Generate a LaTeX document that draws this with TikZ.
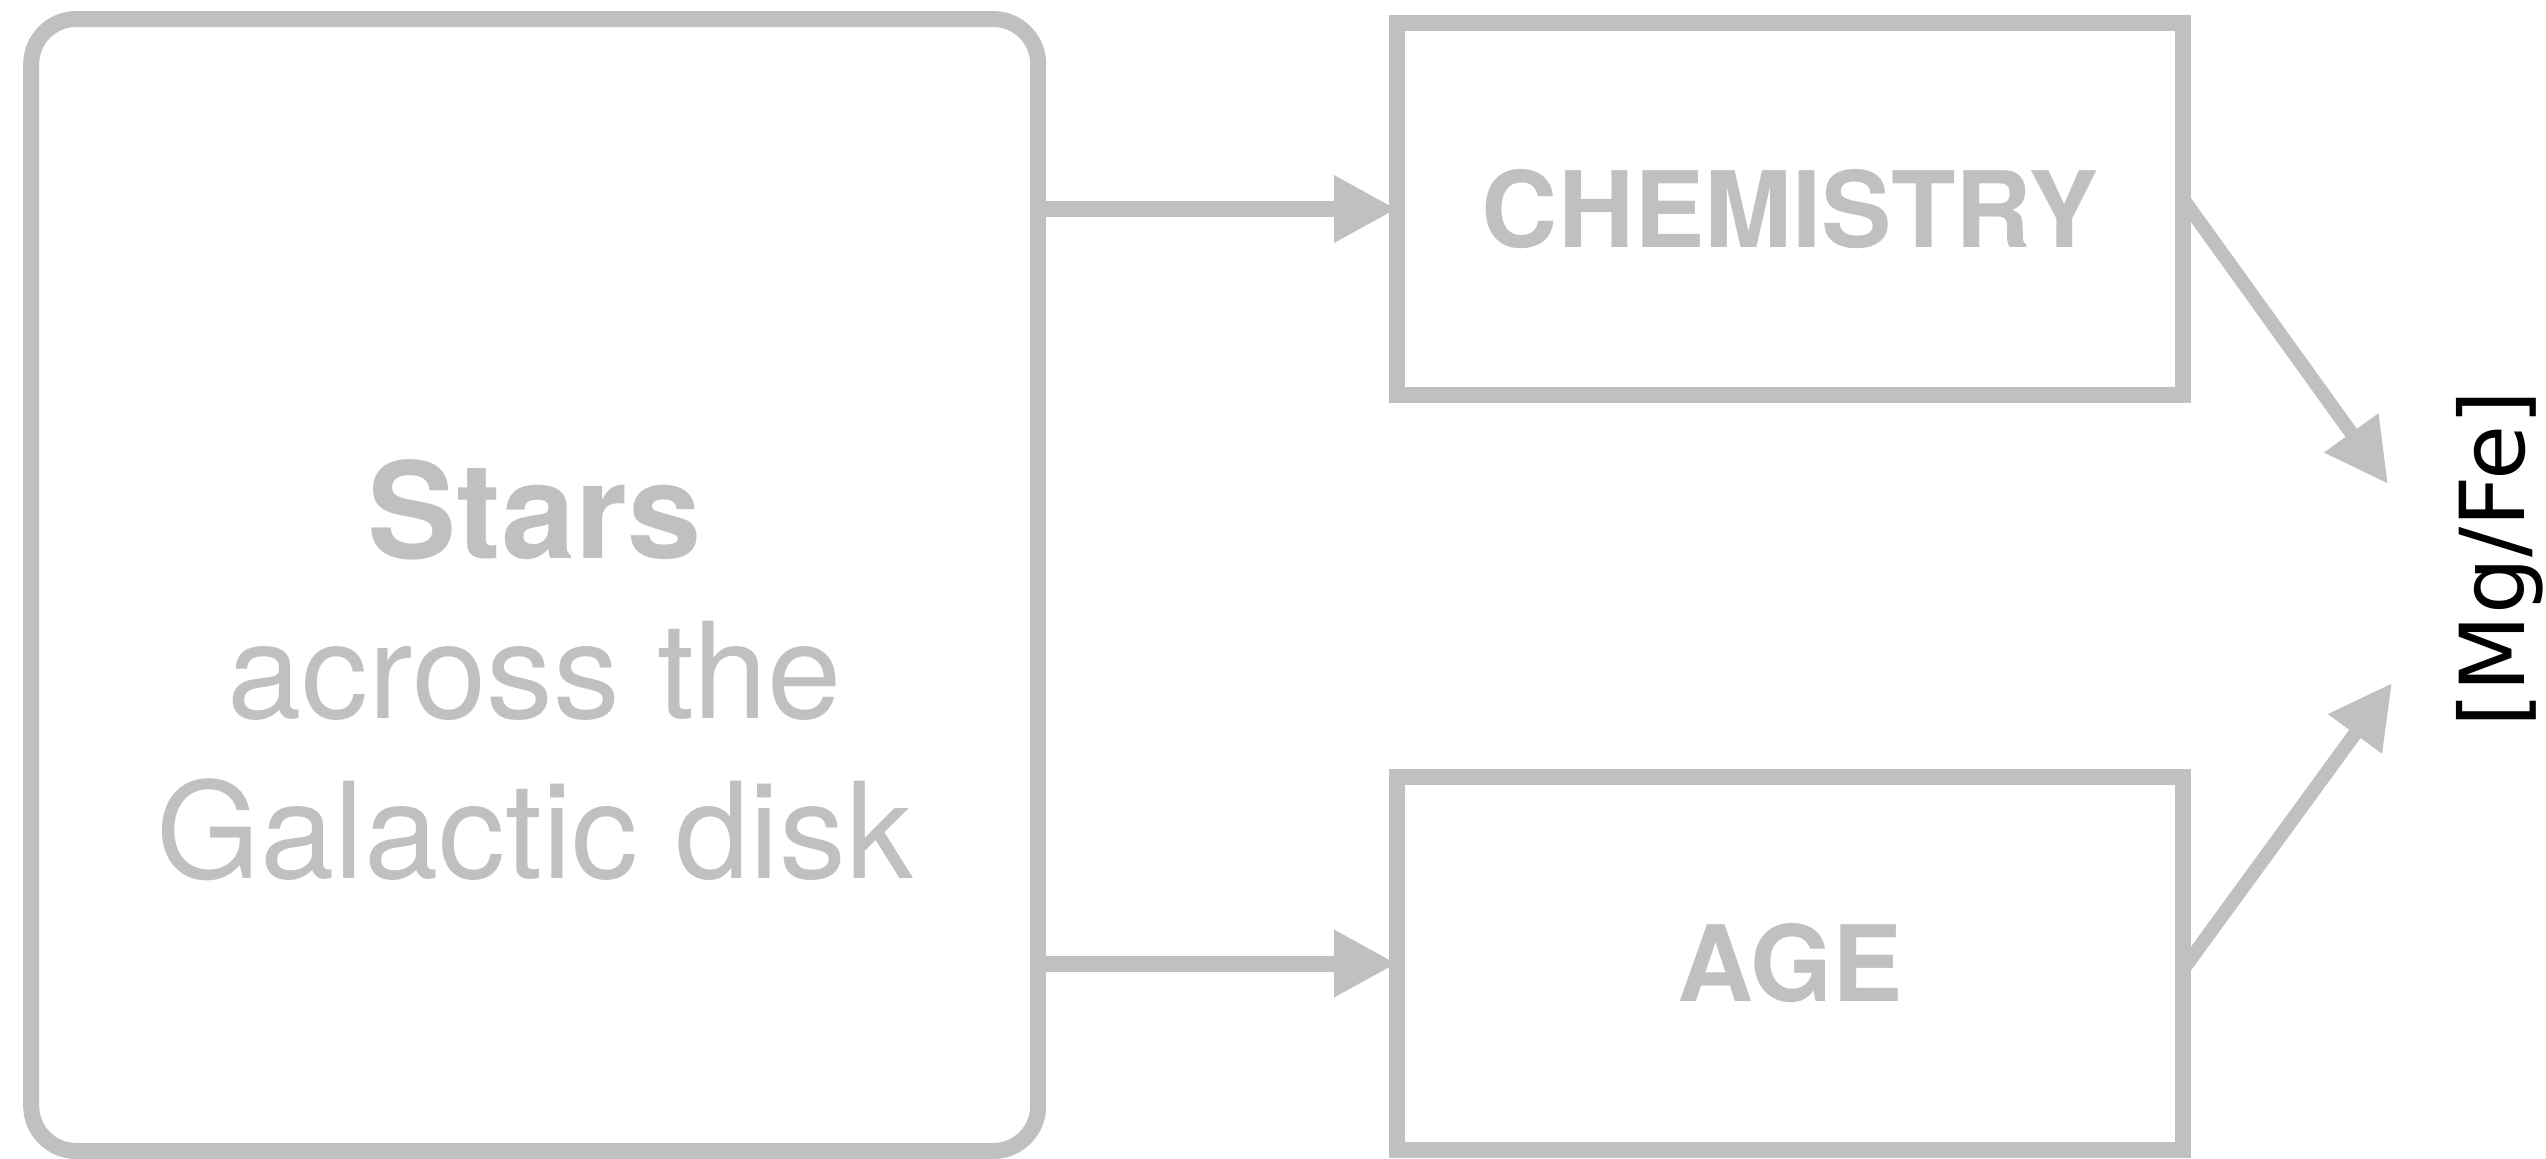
\documentclass[tikz,border=0pt]{standalone}
\usepackage{fontspec}
\setmainfont{TeX Gyre Heros}
\newfontfamily\vera{DejaVu Sans}
\usepackage{xcolor}
\usepackage{tikz}
\usetikzlibrary{calc}
\usetikzlibrary{positioning}
\usetikzlibrary{arrows.meta}

\definecolor{boxgray}{RGB}{192,192,192}

\begin{document}
\begin{tikzpicture}[x=0.1mm,y=-0.1mm]
  \tikzset{every node/.style={text centered,inner sep=0pt,outer sep=0pt}};
  \tikzset{box/.style={draw=boxgray,line width=1.6mm,minimum width=78.6mm,minimum height=37.25mm,text=boxgray,font=\bfseries\fontsize{30}{36}\selectfont}};
  \tikzset{link/.style={draw=boxgray,line width=1.6mm,-{Triangle[length=6.3mm,width=6.3mm]}}};
  \useasboundingbox (0,0) rectangle (2546,1158);
  \node [draw=boxgray, line width=1.6mm, rounded corners=4.5mm, minimum width=100.7mm, minimum height=113.2mm] (stars) at (534.7,585) {};
  \node [text=boxgray, align=center, font=\fontsize{38}{45.5}\selectfont] (starstxt) at (534.7,670) {\textbf{Stars}\\across the\\Galactic disk};
  \node [box] (chem) at (1790,209) {CHEMISTRY};
  \node [box, below=38.2mm of chem] (age) {AGE};
  \node [rotate=90, anchor=base, font=\vera\fontsize{25.5}{30}\selectfont] (mgfe) at (2524,559) {[Mg/Fe]};
  \coordinate (tipchem) at (2388,484);
  \coordinate (tipage) at (2392,683);
  \path[link] (stars.east |- chem.west) -- (chem.west);
  \path[link] (stars.east |- age.west) -- (age.west);
  \path[link, line width=1.4mm] ($(chem.east)+(0,-10)$) -- (tipchem);
  \path[link, line width=1.4mm] ($(age.east)+(0,6)$) -- (tipage);
\end{tikzpicture}
\end{document}
